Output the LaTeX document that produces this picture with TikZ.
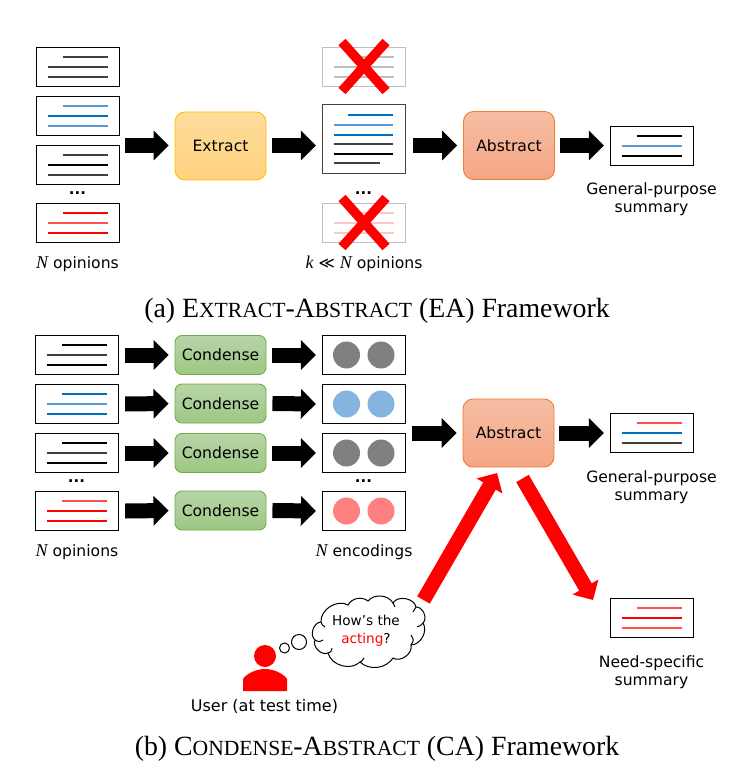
\documentclass[tikz,border=0pt]{standalone}
\usepackage{fontspec}
\setmainfont{DejaVu Sans}
\newfontfamily\capfont{Liberation Serif}
\usetikzlibrary{arrows.meta}
\definecolor{bkA}{HTML}{000000}
\definecolor{bkB}{HTML}{404040}
\definecolor{blA}{HTML}{0070C0}
\definecolor{blB}{HTML}{5B9BD5}
\definecolor{rdA}{HTML}{FF0000}
\definecolor{rdB}{HTML}{FF5050}
\definecolor{gyA}{HTML}{BFBFBF}
\definecolor{pkA}{HTML}{FFC8C8}
\definecolor{absB}{HTML}{ED7D31}
\definecolor{absT}{HTML}{F6BEA5}
\definecolor{absL}{HTML}{F5A683}
\definecolor{conB}{HTML}{70AD47}
\definecolor{conT}{HTML}{B7D5A8}
\definecolor{conL}{HTML}{9DC783}
\definecolor{extB}{HTML}{FFC000}
\definecolor{extT}{HTML}{FEDC9C}
\definecolor{extL}{HTML}{FFD27F}
\newcommand{\lbl}{\fontsize{15.6}{18.3}\selectfont}
\newcommand{\capS}[1]{{\fontsize{21.6}{24}\selectfont #1}}
\newcommand{\Nv}[1]{{\capfont\itshape\fontsize{18}{18}\selectfont #1}}
\tikzset{
  docbox/.style={draw=black,line width=1.2pt,fill=white,minimum width=83pt,minimum height=39pt,inner sep=0pt},
  docfade/.style={docbox,draw=gyA},
  txtline/.style={line width=1.6pt},
  blockarrow/.style={line width=15pt,black,-{Triangle[length=15pt,width=29pt]}},
  redarrow/.style={line width=14.5pt,rdA,-{Triangle[length=15pt,width=29pt]}},
  stepbox/.style={rounded corners=10pt,minimum width=91pt,line width=.9pt,inner sep=0pt,font=\lbl},
  extractbox/.style={stepbox,minimum height=68pt,draw=extB,top color=extT,bottom color=extL},
  abstractbox/.style={stepbox,minimum height=68pt,draw=absB,top color=absT,bottom color=absL},
  condensebox/.style={stepbox,minimum height=39pt,rounded corners=7pt,draw=conB,top color=conT,bottom color=conL},
  dots/.style={font=\fontsize{15}{15}\selectfont\bfseries,inner sep=0pt},
  txt/.style={font=\lbl,align=center,inner sep=0pt},
  cloudtxt/.style={font=\fontsize{13.6}{18}\selectfont,align=center,inner sep=0pt},
  capt/.style={font=\capfont\fontsize{27.8}{30}\selectfont,inner sep=0pt},
  cross/.style={line width=9.5pt,rdA},
  puff/.style={draw=black,line width=1pt,fill=white}
}
% name, cx, cy, box style, colours of the three lines
\newcommand{\docnode}[7]{%
  \node[#4] (#1) at (#2,#3) {};
  \begin{scope}[shift={(#2,#3)}]
    \draw[txtline,#5] (-15.5,-10) -- (29.5,-10);
    \draw[txtline,#6] (-30.5,0) -- (29.5,0);
    \draw[txtline,#7] (-30.5,10) -- (29.5,10);
  \end{scope}}
\newcommand{\encnode}[4]{%
  \node[docbox] (#1) at (364,#2) {};
  \fill[#3] (346.5,#2) circle (13.5);
  \fill[#4] (381,#2) circle (13.5);}
\begin{document}
\begin{tikzpicture}[x=1pt,y=-1pt]
\useasboundingbox (0,0) rectangle (738,770);
% ---------- part (a)
\docnode{a1}{78}{67}{docbox}{bkB}{bkB}{bkB}
\docnode{a2}{78}{116}{docbox}{blB}{blA}{blB}
\docnode{a3}{78}{165}{docbox}{bkB}{bkA}{bkB}
\node[dots] (adots) at (77.5,193) {...};
\docnode{a4}{78}{223}{docbox}{rdA}{rdB}{rdA}
\node[txt] (alab) at (77.5,264) {\Nv{N} opinions};
\coordinate (aout) at (119,145.5);
\node[extractbox] (extract) at (220.5,146) {Extract};
\draw[blockarrow] ([xshift=6pt]aout) -- ([xshift=-6pt]extract.west |- aout);
% kept and dropped opinions
\docnode{k1}{364}{67}{docfade}{gyA}{gyA}{gyA}
\draw[cross] (342,42) -- (386,91) (386,42) -- (342,91);
\node[docbox,minimum height=69pt,draw=bkB] (kept) at (364,139) {};
\draw[txtline,blA] (348,115) -- (393,115);
\draw[txtline,blB] (334,125) -- (393,125);
\draw[txtline,blA] (334,135) -- (393,135);
\draw[txtline,bkB] (334,144) -- (393,144);
\draw[txtline,bkA] (334,154) -- (393,154);
\draw[txtline,bkB] (334,163) -- (380,163);
\node[dots] (kdots) at (363.5,193) {...};
\docnode{k3}{364}{223}{docfade}{pkA}{pkA}{pkA}
\draw[cross] (342,198) -- (386,247) (386,198) -- (342,247);
\node[txt] (klab) at (364,264) {\Nv{k} ≪ \Nv{N} opinions};
\draw[blockarrow] ([xshift=6pt]extract.east |- aout) -- ([xshift=-6pt]kept.west |- aout);
\node[abstractbox] (abs1) at (509,145.5) {Abstract};
\draw[blockarrow] ([xshift=7pt]kept.east |- abs1) -- ([xshift=-6pt]abs1.west);
\docnode{s1}{652}{146}{docbox}{bkA}{blB}{bkA}
\draw[blockarrow] ([xshift=5pt]abs1.east) -- ([xshift=-6pt]s1.west |- abs1);
\node[txt] (s1lab) at (651.5,199.5) {General-purpose\\summary};
\node[capt] (capa) at (377,310.5) {(a) E\capS{XTRACT}-A\capS{BSTRACT} (EA) Framework};
% ---------- part (b)
\docnode{b1}{77}{355}{docbox}{bkA}{bkB}{bkA}
\docnode{b2}{77}{404}{docbox}{blA}{blB}{blA}
\docnode{b3}{77}{453}{docbox}{bkA}{bkB}{bkA}
\node[dots] (bdots) at (76.5,481) {...};
\docnode{b4}{77}{511}{docbox}{rdB}{rdA}{rdA}
\node[txt] (blab) at (77,552) {\Nv{N} opinions};
\foreach \n/\y in {1/355,2/403.5,3/453,4/510.5}{
  \node[condensebox] (c\n) at (220.5,\y) {Condense};
}
\encnode{e1}{355}{black!50}{black!50}
\encnode{e2}{404}{blB!75}{blB!75}
\encnode{e3}{453}{black!50}{black!50}
\node[dots] (edots) at (363.5,481) {...};
\encnode{e4}{511}{rdA!50}{rdA!50}
\node[txt] (elab) at (364,552) {\Nv{N} encodings};
\foreach \n in {1,2,3,4}{
  \draw[blockarrow] ([xshift=6pt]b\n.east) -- ([xshift=-6pt]c\n.west);
  \draw[blockarrow] ([xshift=6pt]c\n.east) -- ([xshift=-6pt]e\n.west);
}
\node[abstractbox] (abs2) at (508.5,433) {Abstract};
\coordinate (eout) at (405,433);
\draw[blockarrow] ([xshift=7pt]eout) -- ([xshift=-6pt]abs2.west);
\docnode{s2}{652}{433}{docbox}{rdB}{blA}{bkB}
\draw[blockarrow] ([xshift=5pt]abs2.east) -- ([xshift=-6pt]s2.west);
\node[txt] (s2lab) at (651.5,487) {General-purpose\\summary};
\docnode{s3}{652}{618}{docbox}{rdB}{rdA}{rdB}
\node[txt] (s3lab) at (651.5,672) {Need-specific\\summary};
% thought cloud
\filldraw[puff] (321,622) to[bend left=62] (348,605)
  to[bend left=50] (368,601)
  to[bend left=55] (393,603)
  to[bend left=70] (416,607)
  to[bend left=70] (423,623)
  to[bend left=60] (411,645)
  to[bend left=70] (393,658)
  to[bend left=50] (360,662)
  to[bend left=60] (328,653)
  to[bend left=70] (315,640)
  to[bend left=70] (321,622);
\draw[black,line width=1pt]
  (321,622) .. controls (322,625) .. (325,627)
  (315,640) .. controls (319,642) .. (323,640)
  (328,653) .. controls (331,652) .. (332,648)
  (360,662) .. controls (362,661) .. (364,658)
  (393,603) .. controls (394,605) .. (395,607)
  (416,607) .. controls (415,610) .. (413,612)
  (423,623) .. controls (420,626) .. (417,627)
  (411,645) .. controls (414,640) .. (411,635);
\node[cloudtxt] (ask) at (366,631) {How’s the\\\textcolor{rdA}{acting}?};
\node[puff,circle,minimum size=15pt,inner sep=0pt] (bub1) at (299,642) {};
\node[puff,circle,minimum size=10pt,inner sep=0pt] (bub2) at (284.5,648) {};
% user
\fill[rdA] (265,656) circle (11);
\fill[rdA] (243,691) -- (243,679) .. controls (247,673) and (257,669) .. (265,669) .. controls (273,669) and (283,673) .. (287,679) -- (287,691) -- cycle;
\node[txt,font=\fontsize{16}{18}\selectfont] (ulab) at (264.5,706) {User (at test time)};
% red connectors
\coordinate (qstart) at (423.5,600);
\coordinate (qend) at (497,473);
\draw[redarrow] (qstart) -- (qend);
\coordinate (nstart) at (522.5,478.5);
\coordinate (nend) at (593,600);
\draw[redarrow] (nstart) -- (nend);
\node[capt] (capb) at (377,748.5) {(b) C\capS{ONDENSE}-A\capS{BSTRACT} (CA) Framework};
\end{tikzpicture}
\end{document}
